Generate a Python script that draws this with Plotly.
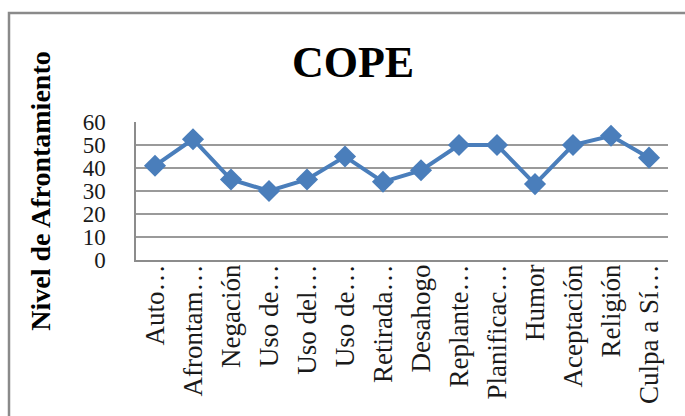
import plotly.graph_objects as go

categories = ["Auto…", "Afrontam…", "Negación", "Uso de…", "Uso del…", "Uso de…",
              "Retirada…", "Desahogo", "Replante…", "Planificac…", "Humor",
              "Aceptación", "Religión", "Culpa a Sí…"]
values = [41, 52.5, 35, 30, 35, 45, 34, 39, 50, 50, 33, 50, 54, 44.5]
y_ticks = [0, 10, 20, 30, 40, 50, 60]

x_idx = list(range(len(categories)))

W, H = 685, 416
L, R, T, B = 136, 17, 122, 156
pw, ph = W - L - R, H - T - B

def px_x(p):
    return (p - L) / pw

def px_y(p):
    return (H - B - p) / ph

fig = go.Figure()
fig.add_trace(go.Scatter(
    x=x_idx, y=values, mode="lines+markers",
    line=dict(color="#4A7EBB", width=4),
    marker=dict(symbol="diamond", size=17, color="#4A7EBB"),
    hoverinfo="skip",
))

fig.update_layout(
    width=W, height=H,
    margin=dict(l=L, r=R, t=T, b=B),
    paper_bgcolor="white", plot_bgcolor="white",
    showlegend=False,
    font=dict(family="Liberation Serif", color="#1a1a1a"),
    title=dict(text="<b>COPE</b>", font=dict(family="Liberation Serif", size=44, color="black"),
               x=353 / W, xanchor="center", xref="container",
               y=1 - 62 / H, yanchor="middle", yref="container"),
    xaxis=dict(
        tickmode="array", tickvals=x_idx, ticktext=categories,
        range=[-0.5, len(categories) - 0.5],
        tickangle=-90, tickfont=dict(size=27, family="Liberation Serif"),
        showgrid=False, zeroline=False,
        showline=True, linecolor="#8c8c8c", linewidth=1.5,
        ticks="", ticklabelstandoff=-8,
    ),
    yaxis=dict(
        range=[0, 60], tickvals=y_ticks,
        tickfont=dict(size=23, family="Liberation Serif"),
        showgrid=True, gridcolor="#9a9a9a", gridwidth=1.5,
        zeroline=False, showline=True, linecolor="#8c8c8c", linewidth=1.5,
        ticks="", ticklabelstandoff=24,
        title=dict(text="<b>Nivel de Afrontamiento</b>",
                   font=dict(size=28, family="Liberation Serif", color="black"),
                   standoff=24),
    ),
    shapes=[dict(type="rect", xref="paper", yref="paper",
                 x0=px_x(9), x1=px_x(W + 10), y0=px_y(H + 10), y1=px_y(13),
                 line=dict(color="#8a8a8a", width=2.5), fillcolor="rgba(0,0,0,0)",
                 layer="below")],
)

fig.write_html("out.html")
